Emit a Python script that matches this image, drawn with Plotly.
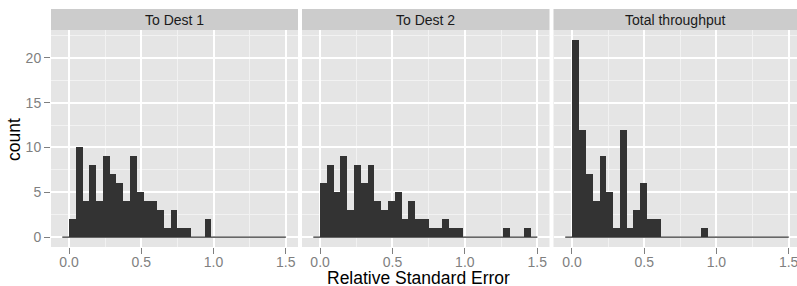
import plotly.graph_objects as go

# ---- data (histogram counts per bin) ----
panels = ["To Dest 1", "To Dest 2", "Total throughput"]
bin_start = -0.0469
bin_width = 0.0469
dest1_counts = [0, 2, 10, 4, 8, 4, 9, 7, 6, 4, 9, 5, 4, 4, 3, 1, 3, 1, 1, 0, 0, 2,
                0, 0, 0, 0, 0, 0, 0, 0, 0, 0, 0]
dest2_counts = [0, 6, 8, 5, 9, 3, 8, 6, 8, 4, 3, 4, 5, 2, 4, 2, 2, 1, 1, 2, 1, 1,
                0, 0, 0, 0, 0, 0, 1, 0, 0, 1, 0]
total_counts = [0, 22, 12, 7, 4, 9, 5, 1, 12, 1, 3, 6, 2, 2, 0, 0, 0, 0, 0, 0, 1,
                0, 0, 0, 0, 0, 0, 0, 0, 0, 0, 0, 0]
x_tickvals = [0.0, 0.5, 1.0, 1.5]
x_ticktext = ["0.0", "0.5", "1.0", "1.5"]
y_tickvals = [0, 5, 10, 15, 20]
y_ticktext = ["0", "5", "10", "15", "20"]
x_title = "Relative Standard Error"
y_title = "count"

series = [dest1_counts, dest2_counts, total_counts]

FONT = "Liberation Sans, Arial, Helvetica, sans-serif"
BAR = "#333333"
W, H = 797, 286
ML, MR, MT, MB = 51, 0, 9, 39
PW = W - ML - MR
PH = H - MT - MB
strip_bottom_px = 30
ydom_top = (H - MB - strip_bottom_px) / PH

xdomains = [[0, 247 / PW], [251 / PW, 498.5 / PW], [502.5 / PW, 1.0]]
xranges = [[-0.125, 1.585], [-0.125, 1.585], [-0.128, 1.558]]
yrange = [-1.1, 23.1]

fig = go.Figure()
n = len(dest1_counts)
centers = [bin_start + bin_width * (i + 0.5) for i in range(n)]
x_lo = bin_start
x_hi = bin_start + bin_width * n

for k, counts in enumerate(series):
    sfx = "" if k == 0 else str(k + 1)
    # baseline of zero-count bins
    fig.add_trace(go.Scatter(x=[x_lo, x_hi], y=[0, 0], mode="lines",
                             line=dict(color=BAR, width=1.3),
                             xaxis="x" + sfx, yaxis="y" + sfx,
                             hoverinfo="skip", showlegend=False))
    fig.add_trace(go.Bar(x=centers, y=counts, width=bin_width,
                         marker=dict(color=BAR, line=dict(width=0)),
                         xaxis="x" + sfx, yaxis="y" + sfx, showlegend=False))

layout = dict(
    width=W, height=H,
    margin=dict(l=ML, r=MR, t=MT, b=MB, autoexpand=False),
    paper_bgcolor="white", plot_bgcolor="#E5E5E5",
    bargap=0, font=dict(family=FONT, size=14, color="#7F7F7F"),
    shapes=[], annotations=[],
)

for k in range(3):
    sfx = "" if k == 0 else str(k + 1)
    layout["xaxis" + sfx] = dict(
        domain=xdomains[k], range=xranges[k], anchor="y" + sfx,
        tickvals=x_tickvals, ticktext=x_ticktext,
        ticks="outside", ticklen=6, tickwidth=1, tickcolor="#7F7F7F",
        ticklabelstandoff=-4, ticklabeloverflow="allow",
        tickfont=dict(size=14, color="#7F7F7F"),
        showgrid=True, gridcolor="white", gridwidth=1.6,
        minor=dict(dtick=0.25, tick0=0.25, showgrid=True, gridcolor="#F2F2F2", gridwidth=0.8, ticks=""),
        zeroline=False, showline=False, fixedrange=True, automargin=False,
    )
    layout["yaxis" + sfx] = dict(
        domain=[0, ydom_top], range=yrange, anchor="x" + sfx,
        tickvals=y_tickvals, ticktext=y_ticktext,
        ticks="outside" if k == 0 else "", ticklen=6, tickwidth=1, tickcolor="#7F7F7F",
        showticklabels=(k == 0),
        tickfont=dict(size=14, color="#7F7F7F"),
        showgrid=True, gridcolor="white", gridwidth=1.6,
        minor=dict(dtick=5, tick0=2.5, showgrid=True, gridcolor="#F2F2F2", gridwidth=0.8, ticks=""),
        zeroline=False, showline=False, fixedrange=True, automargin=False,
    )
    layout["shapes"].append(dict(
        type="rect", xref="x" + sfx + " domain", yref="paper",
        x0=0, x1=1, y0=ydom_top, y1=1.0,
        fillcolor="#CCCCCC", line=dict(width=0), layer="below"))
    layout["annotations"].append(dict(
        text=panels[k], xref="x" + sfx + " domain", yref="paper",
        x=0.5, y=(ydom_top + 1) / 2, xanchor="center", yanchor="middle",
        showarrow=False, font=dict(size=14, color="#1A1A1A", family=FONT)))

layout["annotations"].append(dict(
    text=x_title, xref="paper", yref="paper",
    x=(418 - ML) / PW, y=-(278 - (H - MB)) / PH,
    xanchor="center", yanchor="middle", showarrow=False,
    font=dict(size=17.5, color="black", family=FONT)))
layout["annotations"].append(dict(
    text=y_title, xref="paper", yref="paper",
    x=(14 - ML) / PW, y=((H - MB) - 140) / PH,
    xanchor="center", yanchor="middle", textangle=-90, showarrow=False,
    font=dict(size=17.5, color="black", family=FONT)))

fig.update_layout(**layout)
fig.write_html("out.html", config={"displayModeBar": False},
               post_script="document.body.style.margin='0';document.body.style.overflow='hidden';")
